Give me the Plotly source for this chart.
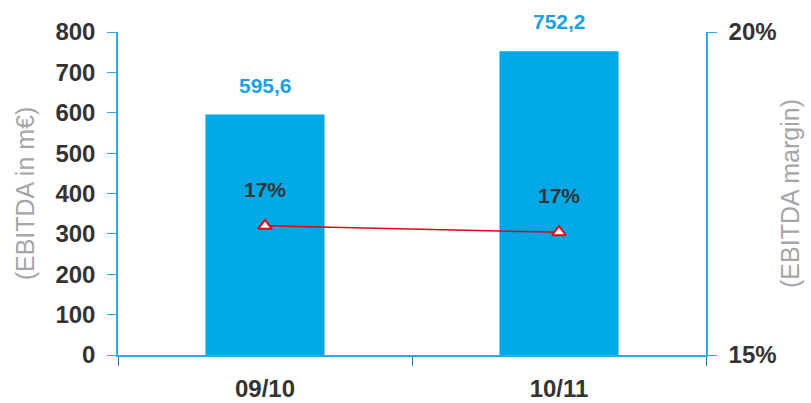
import plotly.graph_objects as go

categories = ["09/10", "10/11"]
ebitda = [595.6, 752.2]
margin = [17.0, 16.9]
margin_labels = ["17%", "17%"]
left_ticks = [0, 100, 200, 300, 400, 500, 600, 700, 800]
right_tickvals = [15, 20]
right_ticktext = ["15%", "20%"]

FONT = "Liberation Sans, Arial, sans-serif"
BLUE = "#00A9E6"
AXIS = "#29ABE2"
DARK = "#333333"
GREY = "#A6A6A6"

bar_text = [f"{v:.1f}".replace(".", ",") for v in ebitda]

fig = go.Figure()
fig.add_trace(go.Bar(
    x=categories, y=ebitda, width=0.405,
    marker=dict(color=BLUE, line=dict(width=0)),
    yaxis="y", showlegend=False,
))
fig.add_trace(go.Scatter(
    x=categories, y=margin, mode="lines+markers",
    line=dict(color="#E30613", width=1.5),
    marker=dict(symbol="triangle-up", size=12, color="white",
                line=dict(color="#E30613", width=2)),
    yaxis="y2", showlegend=False, cliponaxis=False,
))

annotations = []
for c, v, t in zip(categories, ebitda, bar_text):
    annotations.append(dict(
        x=c, y=v, xref="x", yref="y", text=t, showarrow=False,
        yanchor="bottom", yshift=16,
        font=dict(family=FONT, size=21, color="#1BA1E2", weight="bold"),
    ))
for c, v, t in zip(categories, margin, margin_labels):
    annotations.append(dict(
        x=c, y=v, xref="x", yref="y2", text=t, showarrow=False,
        yanchor="bottom", yshift=23,
        font=dict(family=FONT, size=21, color=DARK, weight="bold"),
    ))

fig.update_layout(
    width=811, height=403,
    margin=dict(l=118, r=105, t=32, b=48),
    plot_bgcolor="white", paper_bgcolor="white",
    font=dict(family=FONT),
    annotations=annotations,
    xaxis=dict(
        type="category", range=[-0.5, 1.5], automargin=False,
        showline=True, linecolor=AXIS, linewidth=1.5,
        ticks="outside", tickson="boundaries", ticklen=9, tickcolor="#1B75BB",
        ticklabelstandoff=11,
        tickfont=dict(family=FONT, size=24, color=DARK, weight="bold"),
        showgrid=False, zeroline=False,
    ),
    yaxis=dict(
        range=[0, 800], tickvals=left_ticks, automargin=False,
        showline=True, linecolor=AXIS, linewidth=1.5,
        ticks="outside", ticklen=9, tickcolor=AXIS,
        ticklabelstandoff=7,
        tickfont=dict(family=FONT, size=24, color=DARK, weight="bold"),
        showgrid=False, zeroline=False,
        title=dict(text="(EBITDA in m€)", standoff=14,
                   font=dict(family=FONT, size=25, color=GREY)),
    ),
    yaxis2=dict(
        range=[15, 20], overlaying="y", side="right", automargin=False,
        tickvals=right_tickvals, ticktext=right_ticktext,
        showline=True, linecolor=AXIS, linewidth=1.5,
        ticks="outside", ticklen=9, tickcolor=AXIS,
        ticklabelstandoff=7,
        tickfont=dict(family=FONT, size=24, color=DARK, weight="bold"),
        showgrid=False, zeroline=False,
        title=dict(text="(EBITDA margin)", standoff=6,
                   font=dict(family=FONT, size=25, color=GREY)),
    ),
)

fig.write_html("out.html")
